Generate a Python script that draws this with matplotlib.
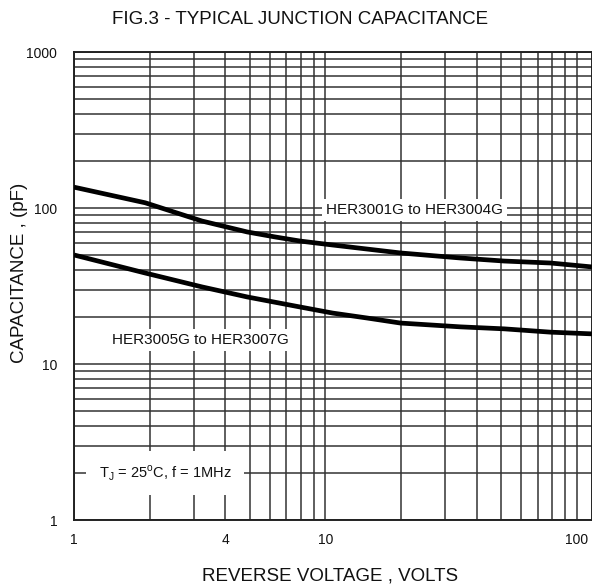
import numpy as np
import matplotlib.pyplot as plt
from matplotlib.ticker import FixedLocator, LogLocator, NullFormatter

plt.rcParams['font.family'] = ['Liberation Sans', 'DejaVu Sans']

volts_hi = [1.0, 1.92, 3.23, 4.89, 6.32, 7.93, 10.7, 19.9, 34.5, 51.5, 78.6, 115]
cap_hi = [136, 108, 82.5, 70.2, 65.2, 61.4, 57.9, 51.5, 47.8, 45.7, 44.4, 41.9]   # HER3001G-HER3004G
volts_lo = [1.0, 1.92, 3.23, 4.89, 7.93, 10.7, 14.7, 19.9, 34.5, 51.5, 78.6, 115]
cap_lo = [50, 38.3, 31.2, 26.9, 23.2, 21.2, 19.7, 18.3, 17.3, 16.8, 16.0, 15.6]    # HER3005G-HER3007G

x_ticks = [1, 4, 10, 100]
x_labels = ['1', '4', '10', '100']
y_ticks = [1, 10, 100, 1000]
y_labels = ['1', '10', '100', '1000']

fig = plt.figure(figsize=(5.92, 5.85), dpi=100)
ax = fig.add_axes([74 / 592, 1 - 520 / 585, 1 - 74 / 592, (520 - 52) / 585])
ax.set_xscale('log')
ax.set_yscale('log')
ax.set_xlim(1, 115)
ax.set_ylim(1, 1000)

grid_kw = dict(color='#333333', linewidth=1.1)
ax.xaxis.set_major_locator(FixedLocator(x_ticks))
ax.xaxis.set_minor_locator(LogLocator(base=10, subs=np.arange(2, 10)))
ax.yaxis.set_major_locator(FixedLocator(y_ticks))
ax.yaxis.set_minor_locator(LogLocator(base=10, subs=np.arange(2, 10)))
ax.set_xticklabels(x_labels)
ax.set_yticklabels(y_labels)
ax.xaxis.set_minor_formatter(NullFormatter())
ax.yaxis.set_minor_formatter(NullFormatter())
ax.grid(True, which='both', **grid_kw)
ax.tick_params(which='both', length=0, labelsize=10, labelcolor='#111111')
ax.tick_params(axis='x', pad=9)
ax.tick_params(axis='y', pad=12)
for s in ax.spines.values():
    s.set_color('#222222')
    s.set_linewidth(1.4)

ax.plot(volts_hi, cap_hi, color='black', lw=3.4, solid_capstyle='butt', zorder=3)
ax.plot(volts_lo, cap_lo, color='black', lw=3.4, solid_capstyle='butt', zorder=3)

box = dict(facecolor='white', edgecolor='none', pad=3)
ax.text(22.6, 97, 'HER3001G to HER3004G', fontsize=11, ha='center', va='center',
        color='#111111', bbox=box, zorder=4)
ax.text(3.18, 14.3, 'HER3005G to HER3007G', fontsize=11, ha='center', va='center',
        color='#111111', bbox=box, zorder=4)
ax.text(2.3, 2.0, r'T$_\mathregular{J}$ = 25$^\mathregular{o}$C, f = 1MHz', fontsize=10.5,
        ha='center', va='center', color='#111111',
        bbox=dict(facecolor='white', edgecolor='none', pad=9), zorder=4)

fig.text(300 / 592, 1 - 19 / 585, 'FIG.3 - TYPICAL JUNCTION CAPACITANCE', fontsize=13.5,
         ha='center', va='center', color='#111111')
fig.text(330 / 592, 1 - 576 / 585, 'REVERSE VOLTAGE , VOLTS', fontsize=13.5,
         ha='center', va='center', color='#111111')
fig.text(20 / 592, 1 - 273 / 585, 'CAPACITANCE , (pF)', fontsize=13.5, rotation=90,
         ha='center', va='center', color='#111111')

fig.savefig('out.png', dpi=100)
